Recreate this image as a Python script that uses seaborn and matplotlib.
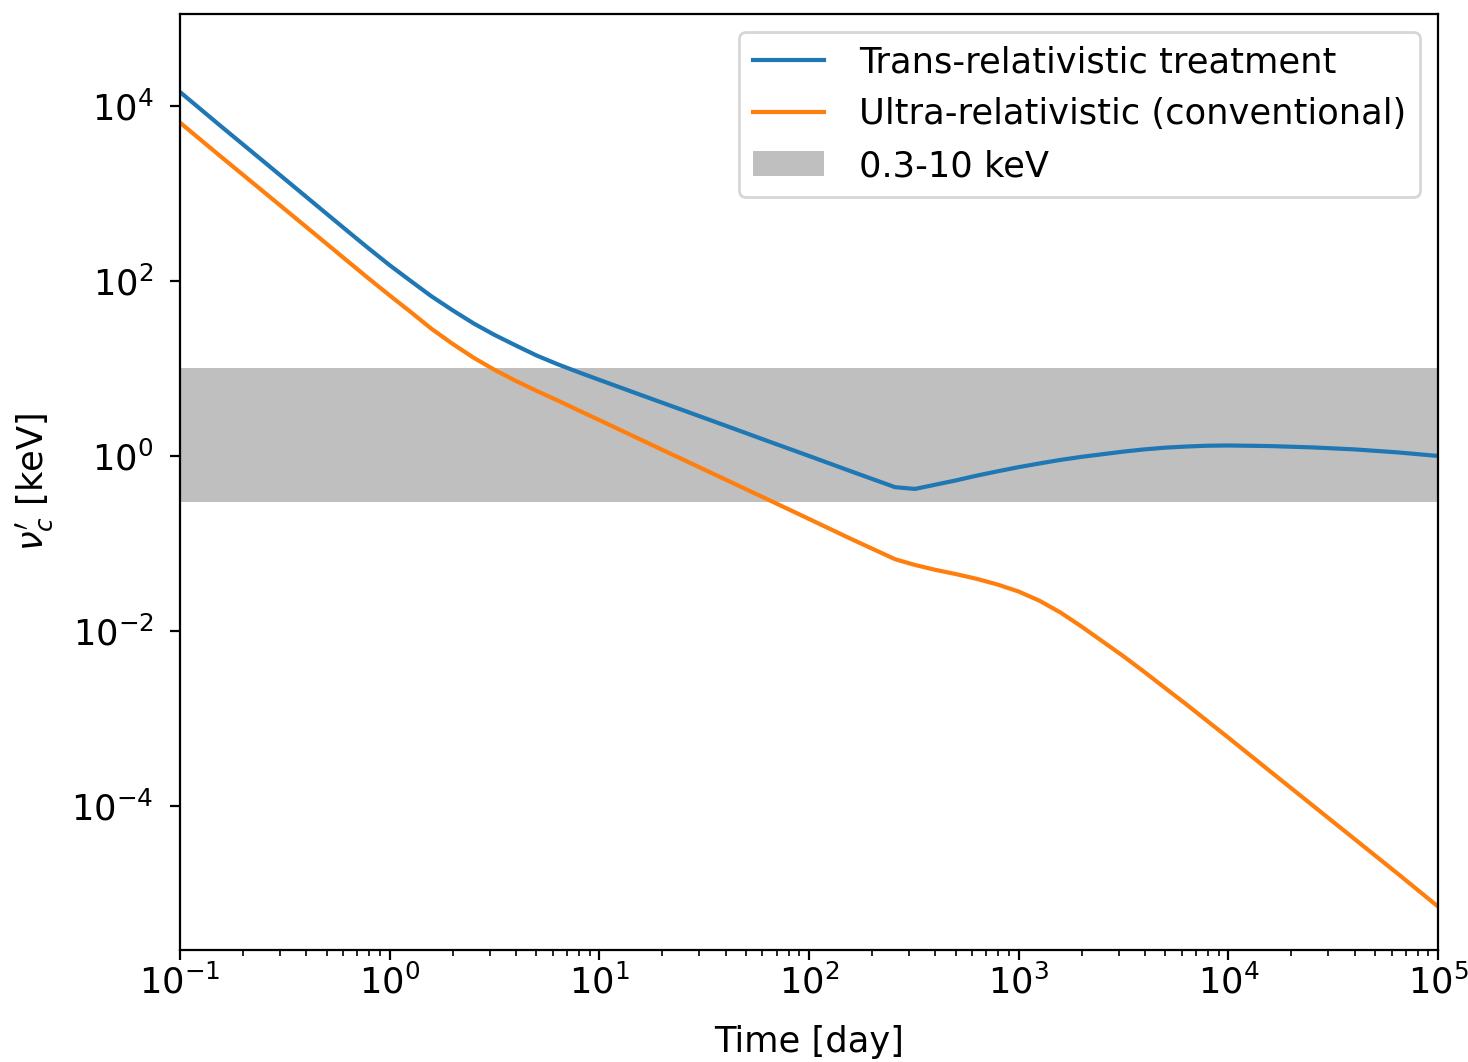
import numpy as np
import pandas as pd
import matplotlib
matplotlib.use("Agg")
import matplotlib.pyplot as plt
from matplotlib.ticker import NullLocator
import seaborn as sns

# Observer time in days (shared grid for both curves)
time_day = [0.1, 0.158, 0.251, 0.398, 0.631, 0.794, 1.0, 1.26, 1.58, 2.0,
            2.51, 3.16, 3.98, 5.01, 6.31, 7.94, 10.0, 15.8, 25.1, 39.8,
            63.1, 100.0, 158.0, 257.0, 320.0, 398.0, 501.0, 631.0, 794.0,
            1000.0, 1259.0, 1585.0, 1995.0, 2512.0, 3162.0, 3981.0, 5012.0,
            6310.0, 7943.0, 10000.0, 15850.0, 25120.0, 39810.0, 63100.0,
            100000.0]

# Cooling frequency nu'_c [keV], trans-relativistic treatment
nu_trans = [14450, 5781, 2312, 925, 370, 235.5, 151.4, 100.0, 67.0, 46.1,
            32.8, 24.2, 18.4, 14.1, 11.2, 9.08, 7.41, 4.97, 3.33, 2.23,
            1.49, 1.0, 0.670, 0.440, 0.420, 0.468, 0.525, 0.596, 0.668,
            0.745, 0.822, 0.902, 0.977, 1.047, 1.122, 1.189, 1.245,
            1.282, 1.309, 1.318, 1.297, 1.253, 1.189, 1.102,
            1.0]

# Cooling frequency nu'_c [keV], ultra-relativistic (conventional)
nu_ultra = [6457, 2594, 1042, 419, 168, 106.7, 68.4, 44.2, 28.5, 19.05,
            13.3, 9.66, 7.24, 5.56, 4.32, 3.33, 2.57, 1.53, 0.908, 0.540,
            0.321, 0.1905, 0.1132, 0.0661, 0.0568, 0.0501, 0.0447, 0.0394, 0.0339,
            0.0282, 0.0221, 0.0162, 0.01122, 0.00759, 0.00513, 0.00339, 0.00221,
            0.001445, 9.33e-4, 6.03e-4, 2.48e-4, 1.023e-4, 4.22e-5, 1.74e-5,
            7.08e-6]

band_low, band_high = 0.3, 10.0
band_label = "0.3-10 keV"
label_trans = "Trans-relativistic treatment"
label_ultra = "Ultra-relativistic (conventional)"

plt.rcParams["font.size"] = 12.7
plt.rcParams["font.family"] = ["DejaVu Sans"]

fig = plt.figure(figsize=(7.34, 5.31), dpi=200)
ax = fig.add_axes([0.1226, 0.1055, 0.857, 0.8813])
ax.set_xscale("log")
ax.set_yscale("log")

df = pd.DataFrame({"t": time_day, "trans": nu_trans, "ultra": nu_ultra})
sns.lineplot(data=df, x="t", y="trans", ax=ax, color="#1f77b4",
             linewidth=1.5, label=label_trans)
sns.lineplot(data=df, x="t", y="ultra", ax=ax, color="#ff7f0e",
             linewidth=1.5, label=label_ultra)
ax.axhspan(band_low, band_high, color="gray", alpha=0.5, lw=0, label=band_label)

ax.set_xlim(0.1, 1e5)
ax.set_ylim(10 ** -5.646, 10 ** 5.051)
ax.set_yticks([1e-4, 1e-2, 1e0, 1e2, 1e4])
ax.yaxis.set_minor_locator(NullLocator())
ax.tick_params(axis="x", which="major", pad=1.5)
ax.tick_params(axis="y", which="major", pad=6)

ax.set_xlabel("Time [day]", labelpad=9)
ax.set_ylabel(r"$\nu_c'$ [keV]", labelpad=6)

handles, labels = ax.get_legend_handles_labels()
ax.legend(handles, labels, loc="upper right", borderpad=0.4, handletextpad=1.0)

fig.savefig("out.png", dpi=200)
